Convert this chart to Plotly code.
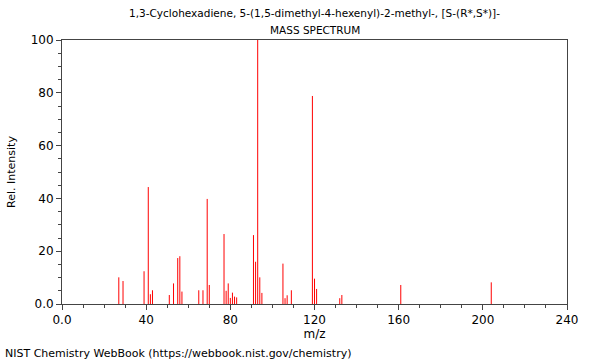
import plotly.graph_objects as go

mz = [27, 29, 39, 41, 42, 43, 51, 53, 55, 56, 57, 65, 67, 69, 70, 77, 78, 79, 80, 81,
      82, 83, 91, 92, 93, 94, 95, 105, 106, 107, 109, 119, 120, 121, 132, 133, 161, 204]
intensity = [10.1, 8.7, 12.4, 44.3, 3.7, 5.2, 3.4, 7.8, 17.4, 18.1, 4.7, 5.2, 5.2, 39.8, 7.2,
             26.5, 5.0, 7.8, 2.3, 4.3, 2.8, 2.5, 26.1, 16.0, 100.0, 10.1, 4.2, 15.3, 2.2, 3.3,
             5.2, 78.8, 9.6, 5.7, 2.2, 3.4, 7.2, 8.2]

x_ticks = [0, 40, 80, 120, 160, 200, 240]
x_labels = ["0.0", "40", "80", "120", "160", "200", "240"]
y_ticks = [0, 20, 40, 60, 80, 100]
y_labels = ["0.0", "20", "40", "60", "80", "100"]

title_line1 = "1,3-Cyclohexadiene, 5-(1,5-dimethyl-4-hexenyl)-2-methyl-, [S-(R*,S*)]-"
title_line2 = "MASS SPECTRUM"
credit = "NIST Chemistry WebBook (https://webbook.nist.gov/chemistry)"

xs, ys = [], []
for m, v in zip(mz, intensity):
    xs += [m, m, None]
    ys += [0, v, None]

fig = go.Figure()
fig.add_trace(go.Scatter(x=xs, y=ys, mode="lines",
                         line=dict(color="#ff0000", width=1),
                         hoverinfo="skip", showlegend=False))

font = "DejaVu Sans"
axis_common = dict(showline=True, linecolor="#444444", linewidth=1, mirror=True,
                   showgrid=False, zeroline=False, ticks="outside", ticklen=5,
                   tickcolor="#444444", tickfont=dict(family=font, size=12, color="#000000"),
                   minor=dict(ticks="outside", ticklen=3, tickcolor="#444444"))

fig.update_xaxes(range=[0, 240], tickvals=x_ticks, ticktext=x_labels,
                 minor_dtick=10,
                 title=dict(text="m/z", font=dict(family=font, size=12, color="#000000"), standoff=3),
                 **axis_common)
fig.update_yaxes(range=[0, 100], tickvals=y_ticks, ticktext=y_labels,
                 minor_dtick=5,
                 title=dict(text="Rel. Intensity", font=dict(family=font, size=11, color="#000000"), standoff=12),
                 **axis_common)

PW, PH = 505, 264
fig.update_layout(
    width=600, height=360,
    margin=dict(l=62, r=33, t=40, b=56),
    paper_bgcolor="white", plot_bgcolor="white",
    font=dict(family=font, color="#000000"),
    annotations=[
        dict(text=title_line1, x=0.5, xref="paper", y=1, yref="paper", yanchor="middle",
             yshift=27, showarrow=False, font=dict(family=font, size=10.5)),
        dict(text=title_line2, x=0.5, xref="paper", y=1, yref="paper", yanchor="middle",
             yshift=10, showarrow=False, font=dict(family=font, size=10.5)),
        dict(text=credit, x=(3 - 62) / PW, xref="paper", xanchor="left",
             y=-(353 - 304) / PH, yref="paper", yanchor="middle",
             showarrow=False, font=dict(family=font, size=11)),
    ],
)

fig.write_html("out.html", config={"displayModeBar": False},
               post_script="document.body.style.margin='0';")
